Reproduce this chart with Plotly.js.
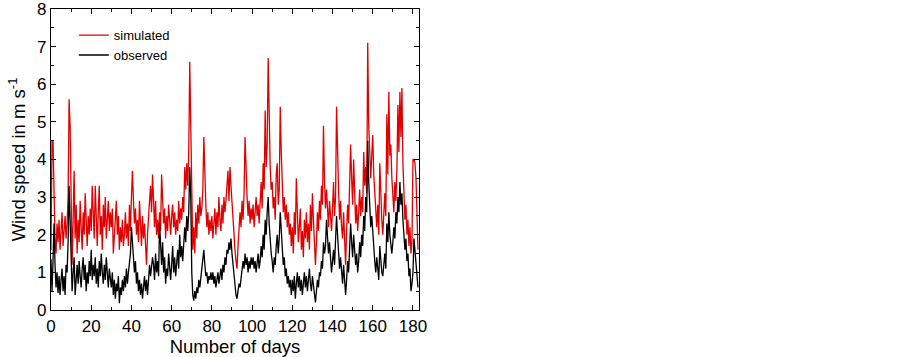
<!DOCTYPE html>
<html>
<head>
<meta charset="utf-8">
<script src="https://cdn.plot.ly/plotly-3.0.1.min.js"></script>
<style>
  body { margin: 0; background: #fff; }
  #chart { width: 903px; height: 357px; }
</style>
</head>
<body>
<div id="chart"></div>
<script>
// half-day samples, starting at day 0

var simulated = [
  // days 0 - 9.5
  1.6, 4.5, 4.5, 2.9, 1.9, 1.5, 2.3, 1.8, 2.4, 1.6, 2.2, 2.6, 1.7, 2.0, 2.5, 1.9, 2.3, 3.0, 5.6, 4.9,
  // days 10 - 19.5
  2.2, 1.2, 2.4, 3.7, 1.9, 2.8, 1.5, 2.4, 1.8, 2.9, 2.2, 1.6, 2.6, 2.0, 3.1, 2.3, 1.7, 2.5, 2.0, 2.7,
  // days 20 - 29.5
  2.1, 3.3, 2.4, 1.9, 3.3, 2.2, 1.7, 2.6, 3.3, 2.0, 2.5, 1.6, 2.8, 2.2, 3.0, 1.9, 2.4, 2.9, 2.1, 2.6,
  // days 30 - 39.5
  2.2, 2.7, 1.5, 2.1, 2.3, 2.9, 2.0, 2.5, 1.6, 2.2, 1.8, 2.4, 1.7, 2.0, 2.6, 1.9, 2.3, 1.7, 2.8, 2.1,
  // days 40 - 49.5
  3.0, 3.7, 2.9, 2.3, 2.7, 2.0, 2.4, 1.8, 2.9, 2.2, 1.7, 2.5, 1.9, 2.3, 1.5, 1.2, 2.0, 2.6, 2.9, 3.3,
  // days 50 - 59.5
  2.6, 3.6, 2.7, 2.2, 2.9, 2.0, 2.4, 1.9, 2.6, 2.1, 3.6, 2.8, 2.3, 2.7, 1.9, 2.5, 2.1, 2.8, 2.3, 2.0,
  // days 60 - 69.5
  2.5, 2.8, 2.2, 2.6, 2.0, 2.4, 2.1, 2.9, 2.3, 2.7, 2.4, 3.0, 2.6, 3.8, 3.2, 3.9, 3.3, 4.2, 6.6, 4.4,
  // days 70 - 79.5
  2.6, 1.6, 2.2, 1.5, 2.6, 1.9, 2.8, 2.3, 3.0, 2.5, 2.7, 3.2, 4.6, 3.3, 2.8, 2.2, 2.6, 2.0, 2.4, 2.1,
  // days 80 - 89.5
  2.5, 1.9, 2.3, 2.7, 2.0, 2.6, 2.2, 3.0, 2.4, 2.1, 2.8, 2.3, 3.0, 2.6, 2.9, 3.3, 3.7, 2.9, 3.8, 3.3,
  // days 90 - 99.5
  2.8, 2.3, 2.0, 1.6, 1.3, 1.1, 1.7, 2.2, 2.6, 2.2, 2.9, 2.4, 3.1, 4.6, 3.6, 3.0, 2.5, 2.9, 2.3, 2.7,
  // days 100 - 109.5
  2.4, 2.8, 2.2, 2.6, 3.0, 2.5, 2.8, 2.3, 2.9, 3.4, 2.7, 3.9, 3.2, 5.3, 3.8, 4.4, 6.7, 4.9, 3.8, 3.2,
  // days 110 - 119.5
  3.4, 2.7, 3.0, 2.4, 3.6, 3.9, 2.8, 3.2, 5.4, 4.2, 3.4, 2.6, 3.0, 2.4, 2.8, 2.2, 2.6, 2.0, 2.3, 1.7,
  // days 120 - 129.5
  2.2, 1.5, 2.6, 2.0, 3.5, 2.4, 1.8, 2.2, 2.7, 1.6, 2.1, 1.4, 2.4, 1.9, 2.6, 1.8, 2.3, 1.6, 2.8, 2.1,
  // days 130 - 139.5
  3.1, 2.4, 1.9, 1.2, 1.8, 2.6, 2.1, 2.9, 2.4, 3.3, 2.8, 4.9, 3.4, 2.7, 3.2, 2.5, 2.2, 2.9, 2.4, 2.1,
  // days 140 - 149.5
  2.7, 3.4, 2.5, 3.0, 5.4, 4.0, 3.2, 2.4, 2.9, 2.2, 1.9, 2.6, 1.6, 1.2, 2.1, 2.8, 2.3, 3.1, 4.4, 3.5,
  // days 150 - 159.5
  2.8, 4.0, 3.0, 2.3, 2.8, 2.1, 2.6, 3.2, 2.5, 3.0, 2.6, 4.2, 3.3, 3.8, 3.1, 7.1, 4.9, 4.2, 3.5, 4.1,
  // days 160 - 169.5
  4.65, 3.6, 3.0, 2.5, 2.2, 2.8, 2.0, 3.9, 2.8, 2.4, 2.0, 2.6, 3.1, 2.5, 5.2, 3.6, 5.8, 4.1, 4.4, 3.5,
  // days 170 - 179.5
  3.0, 2.6, 3.4, 2.9, 3.7, 5.45, 4.2, 5.8, 4.6, 5.9, 3.9, 3.2, 2.4, 2.8, 2.0, 2.4, 1.7, 2.2, 1.5, 1.8,
  // days 180 - 182.5
  4.0, 4.0, 3.9, 3.5, 2.3, 1.6
];

var observed = [
  // days 0 - 9.5
  1.35, 0.5, 1.3, 2.3, 1.2, 0.6, 1.0, 0.45, 0.9, 0.4, 0.8, 1.1, 0.5, 0.9, 0.4, 1.2, 1.0, 1.8, 3.3, 2.4,
  // days 10 - 19.5
  1.3, 0.5, 1.0, 1.4, 0.4, 0.9, 1.2, 0.7, 1.3, 0.9, 0.6, 1.1, 1.4, 0.8, 1.2, 0.5, 1.0, 0.7, 1.3, 0.9,
  // days 20 - 29.5
  1.6, 0.8, 1.2, 0.9, 1.4, 0.7, 1.1, 0.6, 1.3, 0.9, 1.5, 1.0, 0.7, 1.2, 0.8, 1.4, 1.0, 0.6, 1.1, 0.8,
  // days 30 - 39.5
  0.6, 1.0, 0.4, 0.8, 0.3, 0.7, 0.5, 0.9, 0.18, 0.6, 0.4, 0.8, 0.5, 0.9, 0.6, 1.1, 0.7, 1.0, 1.3, 1.5,
  // days 40 - 49.5
  2.2, 1.8, 1.4, 1.0, 1.3, 0.7, 1.0, 0.5, 0.8, 0.4, 0.7, 0.3, 0.6, 0.9, 0.5, 0.8, 0.4, 0.9, 1.2, 0.9,
  // days 50 - 59.5
  1.1, 1.4, 1.2, 0.8, 1.5, 1.0, 1.3, 0.9, 2.3, 1.6, 1.2, 1.8, 1.0, 1.4, 0.7, 1.1, 0.9, 1.5, 1.2, 0.8,
  // days 60 - 69.5
  1.2, 1.7, 1.0, 1.4, 0.9, 1.3, 1.6, 1.1, 2.0, 1.4, 1.7, 1.3, 1.9, 2.2, 1.8, 2.5, 2.1, 2.6, 3.8, 3.0,
  // days 70 - 79.5
  1.0, 0.4, 0.25, 0.5, 0.3, 0.6, 0.45, 0.8, 0.6, 0.9, 1.1, 1.3, 1.6, 1.2, 0.9, 1.0, 0.7, 0.9, 0.8, 1.0,
  // days 80 - 89.5
  0.8, 1.0, 0.7, 0.9, 0.6, 0.8, 1.0, 0.7, 0.9, 1.1, 0.8, 1.2, 1.0, 1.4, 1.2, 1.6, 1.5, 1.8, 1.6, 1.9,
  // days 90 - 99.5
  1.5, 1.2, 0.9, 0.6, 0.4, 0.3, 0.5, 0.7, 0.6, 0.9, 1.0, 1.3, 1.1, 1.5, 1.2, 1.4, 1.0, 1.3, 1.1, 1.4,
  // days 100 - 109.5
  1.2, 1.4, 1.1, 1.3, 1.0, 1.2, 1.5, 1.1, 1.3, 1.7, 1.4, 2.0, 1.6, 2.4, 2.0, 2.6, 3.0, 2.3, 1.8, 1.5,
  // days 110 - 119.5
  1.3, 1.0, 1.4, 1.2, 1.7, 2.0, 1.5, 1.9, 2.6, 2.2, 1.7, 1.2, 1.4, 0.9, 1.1, 0.7, 0.9, 0.6, 0.8, 0.4,
  // days 120 - 129.5
  0.8, 0.5, 0.9, 0.3, 0.7, 1.0, 0.6, 0.9, 0.5, 0.8, 0.4, 0.7, 1.0, 0.6, 0.9, 0.5, 0.8, 1.1, 0.7, 0.5,
  // days 130 - 139.5
  0.9, 0.6, 0.3, 0.2, 0.5, 0.8, 0.6, 1.0, 0.9, 1.3, 1.1, 1.8, 1.5, 1.7, 2.4, 1.9, 1.5, 1.8, 1.3, 1.0,
  // days 140 - 149.5
  1.3, 1.6, 1.2, 1.9, 2.5, 2.0, 1.5, 1.1, 1.4, 0.9, 0.7, 1.2, 0.6, 0.4, 0.8, 1.3, 1.0, 1.6, 2.3, 1.8,
  // days 150 - 159.5
  1.4, 2.0, 1.6, 1.2, 1.5, 1.0, 1.3, 1.8, 1.4, 2.0, 1.7, 2.5, 2.1, 3.0, 2.6, 4.5, 3.4, 2.8, 2.2, 2.5,
  // days 160 - 169.5
  2.0, 1.6, 1.3, 1.0, 1.4, 1.1, 0.8, 1.7, 1.3, 1.0, 0.9, 1.2, 1.5, 1.1, 2.3, 1.8, 2.6, 2.0, 1.7, 1.5,
  // days 170 - 179.5
  1.8, 2.2, 1.9, 2.6, 2.3, 3.0, 2.6, 3.4, 2.8, 3.1, 2.4, 2.0, 1.6, 1.9, 1.3, 1.5, 0.9, 1.1, 0.5, 0.7,
  // days 180 - 182.5
  1.0, 1.9, 1.6, 1.2, 1.0, 0.6
];

var xTicks = [0, 20, 40, 60, 80, 100, 120, 140, 160, 180];
var yTicks = [0, 1, 2, 3, 4, 5, 6, 7, 8];

var trace1 = {
  x0: 0,
  dx: 0.5,
  y: simulated,
  name: 'simulated',
  type: 'scatter',
  mode: 'lines',
  line: {color: '#e00000', width: 1.3}
};

var trace2 = {
  x0: 0,
  dx: 0.5,
  y: observed,
  name: 'observed',
  type: 'scatter',
  mode: 'lines',
  line: {color: '#000000', width: 1.3}
};

var axisStyle = {
  showline: true,
  linecolor: '#000',
  linewidth: 1.2,
  mirror: 'ticks',
  ticks: 'inside',
  ticklen: 5,
  tickwidth: 1,
  tickcolor: '#000',
  showgrid: false,
  zeroline: false,
  ticklabeloverflow: 'allow',
  tickfont: {family: 'Liberation Sans, Arial, sans-serif', size: 17, color: '#000'}
};

var layout = {
  width: 903,
  height: 357,
  margin: {l: 51, r: 484, t: 9, b: 47},
  paper_bgcolor: '#fff',
  plot_bgcolor: '#fff',
  showlegend: true,
  legend: {
    x: 0.062,
    y: 0.963,
    xanchor: 'left',
    yanchor: 'top',
    bgcolor: 'rgba(0,0,0,0)',
    itemwidth: 30,
    tracegroupgap: 0,
    font: {family: 'Liberation Sans, Arial, sans-serif', size: 13, color: '#000'}
  },
  xaxis: Object.assign({}, axisStyle, {
    range: [0, 183],
    tickmode: 'array',
    tickvals: xTicks,
    minor: {ticks: 'inside', dtick: 10, ticklen: 3, tickcolor: '#000', showgrid: false},
    title: {text: 'Number of days', standoff: 1,
            font: {family: 'Liberation Sans, Arial, sans-serif', size: 18.5, color: '#000'}}
  }),
  yaxis: Object.assign({}, axisStyle, {
    range: [0, 8],
    tickmode: 'array',
    tickvals: yTicks,
    minor: {ticks: 'inside', dtick: 0.5, ticklen: 3, tickcolor: '#000', showgrid: false},
    title: {text: 'Wind speed in m s<sup>-1</sup>', standoff: 6,
            font: {family: 'Liberation Sans, Arial, sans-serif', size: 18.5, color: '#000'}}
  })
};

Plotly.newPlot('chart', [trace1, trace2], layout, {displayModeBar: false, staticPlot: true});
</script>
</body>
</html>
